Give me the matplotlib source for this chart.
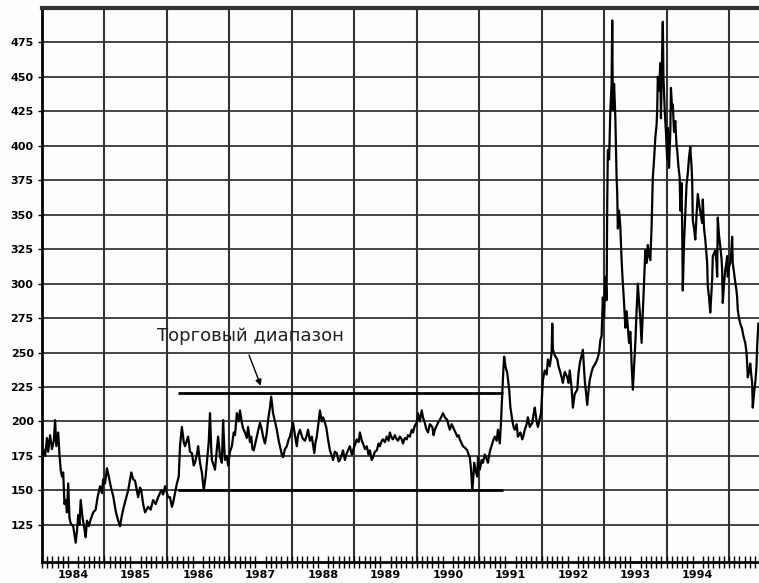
import numpy as np
import matplotlib
matplotlib.use("Agg")
import matplotlib.pyplot as plt
from matplotlib.ticker import FixedLocator, NullFormatter

# годы от 1984 (доли года) и цена
t = [
    # 1984
    0.00, 0.02, 0.05, 0.08, 0.10, 0.13, 0.16, 0.19, 0.21, 0.23,
    0.26, 0.28, 0.30, 0.32, 0.34, 0.36, 0.38, 0.40, 0.42, 0.44,
    0.46, 0.50, 0.54, 0.56, 0.58, 0.60, 0.62, 0.65, 0.68, 0.70,
    0.72, 0.75, 0.78, 0.82, 0.86, 0.89, 0.93, 0.96, 0.98,
    # 1985
    1.01, 1.04, 1.07, 1.10, 1.14, 1.18, 1.22, 1.25, 1.28, 1.31,
    1.35, 1.38, 1.43, 1.46, 1.49, 1.52, 1.54, 1.57, 1.59, 1.62,
    1.65, 1.70, 1.74, 1.78, 1.82, 1.86, 1.91, 1.94, 1.97,
    # 1986
    2.02, 2.05, 2.08, 2.10, 2.13, 2.16, 2.19, 2.21, 2.24, 2.27,
    2.29, 2.34, 2.37, 2.40, 2.43, 2.45, 2.48, 2.50, 2.53, 2.56,
    2.59, 2.62, 2.64, 2.67, 2.69, 2.71, 2.72, 2.75, 2.77, 2.80,
    2.82, 2.85, 2.88, 2.90, 2.92, 2.93, 2.96, 2.98,
    # 1987
    3.01, 3.04, 3.07, 3.09, 3.12, 3.15, 3.17, 3.20, 3.22, 3.25,
    3.28, 3.30, 3.33, 3.35, 3.37, 3.39, 3.42, 3.44, 3.47, 3.49,
    3.52, 3.54, 3.57, 3.60, 3.62, 3.65, 3.67, 3.70, 3.73, 3.76,
    3.79, 3.81, 3.84, 3.86, 3.89, 3.92, 3.95, 3.97,
    # 1988
    4.00, 4.02, 4.05, 4.08, 4.10, 4.13, 4.17, 4.21, 4.24, 4.26,
    4.29, 4.32, 4.36, 4.38, 4.40, 4.43, 4.45, 4.48, 4.50, 4.53,
    4.55, 4.58, 4.61, 4.64, 4.66, 4.69, 4.72, 4.75, 4.77, 4.80,
    4.82, 4.85, 4.88, 4.91, 4.93, 4.96, 4.98,
    # 1989
    5.01, 5.04, 5.07, 5.09, 5.12, 5.14, 5.17, 5.20, 5.23, 5.25,
    5.28, 5.30, 5.33, 5.36, 5.39, 5.41, 5.44, 5.46, 5.49, 5.52,
    5.55, 5.57, 5.60, 5.62, 5.65, 5.68, 5.70, 5.73, 5.76, 5.78,
    5.81, 5.84, 5.86, 5.89, 5.92, 5.94, 5.97,
    # 1990
    6.00, 6.02, 6.05, 6.08, 6.10, 6.13, 6.15, 6.18, 6.21, 6.25,
    6.27, 6.29, 6.32, 6.34, 6.38, 6.42, 6.45, 6.49, 6.51, 6.53,
    6.56, 6.58, 6.62, 6.65, 6.67, 6.69, 6.72, 6.74, 6.77, 6.81,
    6.83, 6.85, 6.87, 6.89, 6.91, 6.92, 6.95, 6.97, 6.98,
    # 1991
    7.00, 7.01, 7.04, 7.06, 7.09, 7.11, 7.14, 7.17, 7.21, 7.23,
    7.25, 7.28, 7.30, 7.33, 7.35, 7.37, 7.39, 7.40, 7.42, 7.45,
    7.48, 7.50, 7.53, 7.55, 7.57, 7.60, 7.62, 7.66, 7.69, 7.71,
    7.73, 7.76, 7.78, 7.81, 7.85, 7.87, 7.89, 7.92, 7.94, 7.97,
    7.99,
    # 1992
    8.02, 8.05, 8.08, 8.10, 8.13, 8.16, 8.17, 8.18, 8.21, 8.25,
    8.27, 8.29, 8.32, 8.34, 8.37, 8.41, 8.43, 8.45, 8.48, 8.50,
    8.53, 8.57, 8.59, 8.61, 8.64, 8.66, 8.69, 8.73, 8.75, 8.77,
    8.80, 8.82, 8.86, 8.89, 8.92, 8.94, 8.96,
    # 1993
    8.98, 9.00, 9.02, 9.04, 9.05, 9.06, 9.08, 9.10, 9.12, 9.13,
    9.14, 9.16, 9.18, 9.20, 9.21, 9.22, 9.24, 9.26, 9.28, 9.30,
    9.32, 9.34, 9.36, 9.38, 9.40, 9.42, 9.44, 9.46, 9.48, 9.50,
    9.52, 9.54, 9.56, 9.58, 9.60, 9.62, 9.64, 9.66, 9.68, 9.70,
    9.72, 9.74, 9.76, 9.78, 9.80, 9.82, 9.84, 9.85, 9.86, 9.88,
    9.90, 9.91, 9.93, 9.94, 9.95, 9.97, 9.99,
    # 1994-1995
    10.01, 10.02, 10.04, 10.06, 10.07, 10.09, 10.10, 10.12, 10.14, 10.16,
    10.17, 10.19, 10.21, 10.22, 10.24, 10.25, 10.26, 10.28, 10.30, 10.32,
    10.34, 10.36, 10.38, 10.40, 10.41, 10.42, 10.44, 10.46, 10.48, 10.50,
    10.53, 10.57, 10.58, 10.60, 10.62, 10.65, 10.66, 10.68, 10.70, 10.72,
    10.73, 10.74, 10.76, 10.78, 10.80, 10.81, 10.82, 10.84, 10.86, 10.88,
    10.89, 10.90, 10.92, 10.94, 10.96, 10.97, 10.98, 11.00, 11.02, 11.04,
    11.05, 11.06, 11.08, 11.10, 11.12, 11.13, 11.14, 11.16, 11.18, 11.21,
    11.23, 11.26, 11.28, 11.29, 11.30, 11.32, 11.34, 11.36, 11.37, 11.38,
    11.40, 11.42, 11.44, 11.45, 11.47,
]

price = [
    # 1984
    165, 180, 175, 188, 178, 190, 180, 186, 201, 182,
    192, 176, 165, 160, 163, 140, 143, 134, 155, 130,
    126, 124, 112, 120, 132, 125, 143, 130, 122, 116,
    128, 124, 129, 134, 136, 145, 153, 148, 158,
    # 1985
    155, 166, 160, 153, 146, 135, 128, 124, 132, 138,
    145, 150, 163, 158, 157, 150, 145, 152, 150, 140,
    134, 138, 136, 143, 140, 145, 150, 147, 153,
    # 1986
    145, 145, 138, 141, 148, 155, 160, 182, 196, 185,
    182, 189, 178, 177, 168, 170, 176, 182, 170, 163,
    150, 160, 170, 185, 206, 180, 172, 168, 165, 180,
    189, 175, 170, 201, 180, 172, 175, 168,
    # 1987
    178, 182, 192, 190, 206, 200, 208, 199, 195, 192,
    188, 196, 185, 189, 180, 179, 185, 189, 195, 199,
    194, 189, 184, 192, 201, 210, 218, 206, 200, 194,
    186, 182, 176, 174, 180, 182, 187, 189,
    # 1988
    195, 199, 190, 182, 190, 194, 188, 186, 190, 194,
    186, 189, 177, 185, 189, 200, 208, 200, 203, 199,
    196, 187, 179, 175, 172, 178, 177, 171, 172, 176,
    179, 172, 177, 180, 182, 176, 179,
    # 1989
    183, 187, 185, 192, 186, 184, 180, 182, 176, 179,
    172, 174, 178, 179, 184, 182, 186, 187, 185, 189,
    186, 192, 188, 187, 190, 187, 186, 189, 187, 184,
    188, 187, 190, 189, 194, 192, 197,
    # 1990
    199, 206, 200, 208, 203, 199, 195, 192, 198, 196,
    190, 194, 197, 199, 202, 206, 203, 201, 197, 194,
    198, 196, 192, 189, 190, 187, 184, 182, 181, 179,
    176, 174, 165, 150, 162, 170, 163, 160, 174,
    # 1991
    168, 165, 172, 170, 176, 174, 170, 178, 184, 187,
    189, 186, 194, 184, 200, 221, 240, 247, 240, 235,
    223, 210, 201, 196, 194, 198, 189, 192, 187, 190,
    194, 198, 203, 196, 199, 205, 210, 200, 196, 202,
    206,
    # 1992
    230, 237, 234, 245, 240, 250, 271, 252, 248, 245,
    240, 237, 232, 228, 236, 232, 228, 237, 224, 210,
    220, 223, 235, 242, 248, 252, 230, 212, 222, 230,
    236, 239, 242, 245, 250, 259, 262,
    # 1993
    290, 275, 305, 288, 358, 397, 390, 426, 445, 491,
    426, 445, 420, 377, 366, 340, 353, 341, 317, 300,
    286, 268, 280, 268, 257, 265, 242, 223, 240, 257,
    280, 300, 286, 275, 257, 280, 305, 324, 315, 328,
    320, 317, 341, 377, 390, 406, 415, 426, 450, 440,
    460, 420, 470, 490, 450, 426, 410,
    # 1994-1995
    390, 413, 384, 410, 442, 426, 430, 410, 418, 400,
    397, 385, 377, 353, 373, 340, 295, 330, 351, 372,
    380, 392, 399, 385, 375, 346, 340, 332, 350, 365,
    355, 344, 361, 340, 332, 315, 298, 290, 279, 295,
    303, 320, 322, 324, 315, 305, 348, 335, 327, 318,
    310, 286, 300, 310, 316, 320, 305, 312, 315, 325,
    334, 315, 308, 301, 295, 290, 281, 275, 271, 267,
    262, 257, 250, 242, 232, 236, 242, 232, 228, 210,
    220, 228, 240, 254, 271,
]

years = list(range(1984, 1995))
y_ticks = [125, 150, 175, 200, 225, 250, 275, 300, 325, 350, 375, 400, 425, 450, 475]

# торговый диапазон
range_start, range_end = 1986.18, 1991.38
range_top, range_bottom = 220.5, 150
label = "Торговый диапазон"

x = 1984 + np.array(t)
y = np.array(price)

fig = plt.figure(figsize=(7.59, 5.83), dpi=100)
fig.patch.set_facecolor("#fdfdff")
ax = fig.add_axes([0.0553, 0.036, 0.9447, 0.9503])
ax.set_facecolor("#fdfdff")

ax.set_xlim(1984, 1995.48)
ax.set_ylim(98, 500)

# сетка
for yy in y_ticks:
    ax.axhline(yy, color="#444444", lw=1.4, zorder=1)
for yr in years[1:] + [1995]:
    ax.axvline(yr, color="#333333", lw=1.5, zorder=1)

ax.plot(x, y, color="black", lw=1.6, zorder=3)

# линии диапазона
ax.hlines([range_top, range_bottom], range_start, range_end, color="black", lw=2.0, zorder=4)
ax.text(1987.33, 262, label, ha="center", va="center", fontsize=13,
        family="DejaVu Sans", color="#222222", zorder=5)
ax.annotate("", xy=(1987.52, 224), xytext=(1987.30, 250),
            arrowprops=dict(arrowstyle="-|>", color="black", lw=1.0, mutation_scale=9),
            zorder=5)

# оси
ax.set_yticks(y_ticks)
ax.set_yticklabels([str(v) for v in y_ticks], fontsize=8, fontweight="bold")
ax.tick_params(axis="y", length=3, width=1, pad=3)

ax.xaxis.set_major_locator(FixedLocator([yr + 0.5 for yr in years]))
ax.set_xticklabels([str(yr) for yr in years], fontsize=8, fontweight="bold")
ax.xaxis.set_minor_locator(FixedLocator(np.arange(1984, 1995.5, 1 / 12)))
ax.xaxis.set_minor_formatter(NullFormatter())
ax.tick_params(axis="x", which="major", length=0, pad=6)
ax.tick_params(axis="x", which="minor", direction="inout", length=8, width=1)

ax.spines["right"].set_visible(False)
ax.spines["top"].set_linewidth(3)
ax.spines["top"].set_color("#333333")
ax.spines["left"].set_linewidth(2)
ax.spines["bottom"].set_linewidth(2)

fig.savefig("out.png", dpi=100, facecolor=fig.get_facecolor())
